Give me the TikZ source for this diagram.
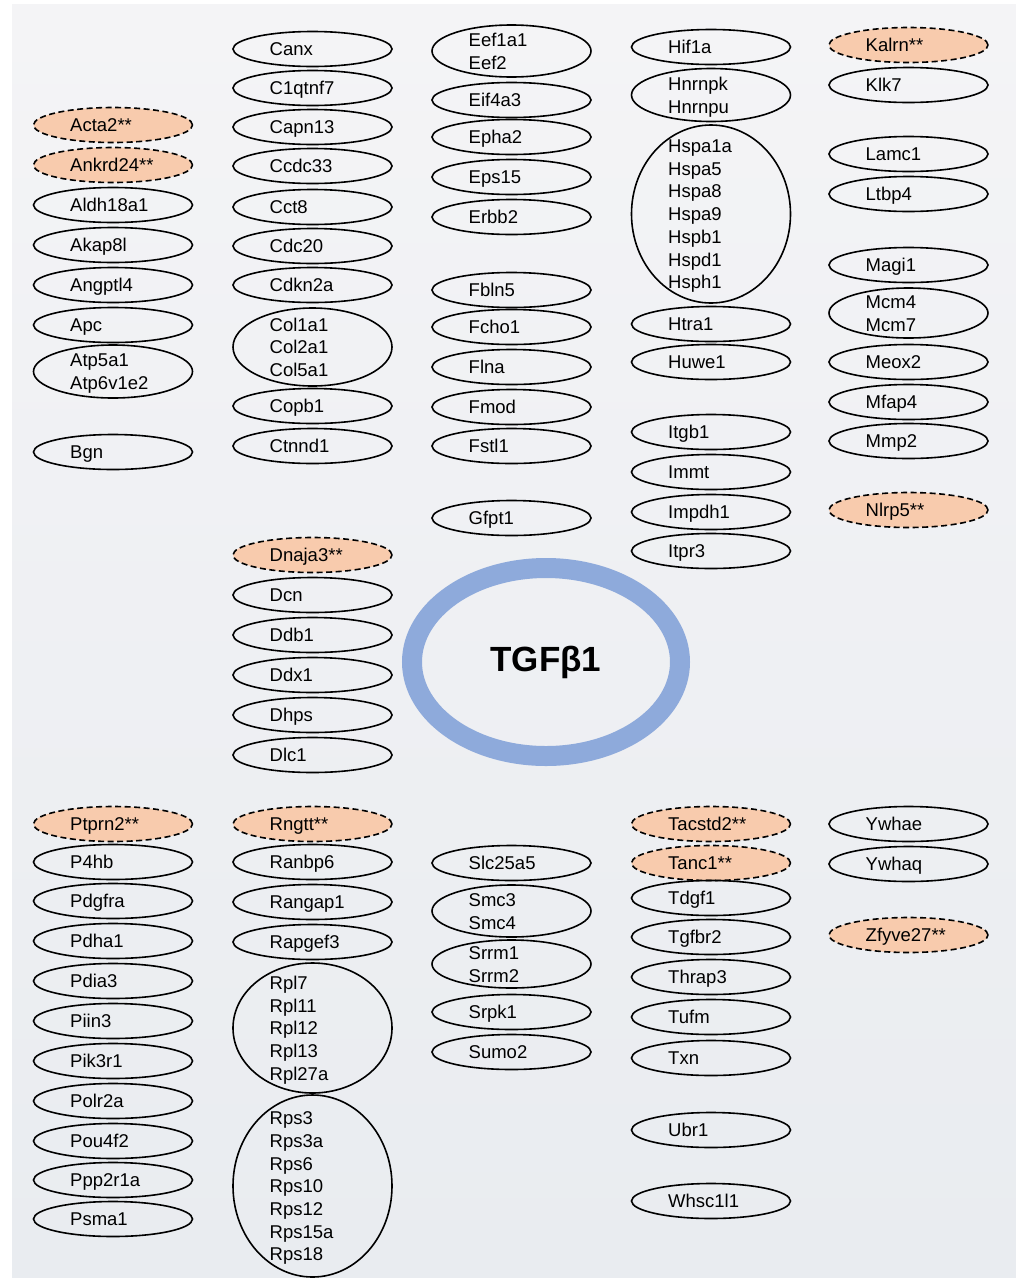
\documentclass[tikz,border=0pt]{standalone}
\usepackage{fontspec}
\setmainfont{Liberation Sans}
\usetikzlibrary{shapes.geometric}
\definecolor{peach}{HTML}{F8CBAD}
\definecolor{ringblue}{HTML}{8EAADB}
\definecolor{bgtop}{HTML}{F4F4F6}
\definecolor{bgbot}{HTML}{E9ECF0}
\tikzset{
  gbox/.style={ellipse,draw=black,line width=1.6pt,minimum width=159pt,minimum height=35pt,inner sep=0pt},
  hl/.style={fill=peach,dashed,dash pattern=on 6pt off 3.5pt},
  gtxt/.style={anchor=west,inner sep=0pt,align=left,font=\fontsize{18.5}{22.7}\selectfont}
}
\newcommand\gn[6][]{%
  \node[gbox,minimum height=#5,#1] (#2) at (#3,#4) {};
  \node[gtxt] (#2t) at ([xshift=-43pt,yshift=-2.2pt]#2.center) {\vphantom{Ag}#6\vphantom{gp}};
}
\begin{document}
\begin{tikzpicture}[x=1pt,y=-1pt]
\useasboundingbox (0,0) rectangle (1016,1278);
\fill[white] (0,0) rectangle (1016,1278);
\fill[top color=bgtop,bottom color=bgbot] (12,4) rectangle (1016,1277);
% column 1
\def\cx{113}
\gn[hl]{Acta2}{\cx}{125}{35pt}{Acta2**}
\gn[hl]{Ankrd24}{\cx}{165}{35pt}{Ankrd24**}
\gn{Aldh18a1}{\cx}{205}{35pt}{Aldh18a1}
\gn{Akap8l}{\cx}{245}{35pt}{Akap8l}
\gn{Angptl4}{\cx}{285}{35pt}{Angptl4}
\gn{Apc}{\cx}{325}{35pt}{Apc}
\gn{Atp}{\cx}{371.5}{53pt}{Atp5a1\\Atp6v1e2}
\gn{Bgn}{\cx}{452}{35pt}{Bgn}
\gn[hl]{Ptprn2}{\cx}{824}{35pt}{Ptprn2**}
\gn{P4hb}{\cx}{862}{35pt}{P4hb}
\gn{Pdgfra}{\cx}{901}{35pt}{Pdgfra}
\gn{Pdha1}{\cx}{941}{35pt}{Pdha1}
\gn{Pdia3}{\cx}{981}{35pt}{Pdia3}
\gn{Piin3}{\cx}{1021}{35pt}{Piin3}
\gn{Pik3r1}{\cx}{1061}{35pt}{Pik3r1}
\gn{Polr2a}{\cx}{1101}{35pt}{Polr2a}
\gn{Pou4f2}{\cx}{1141}{35pt}{Pou4f2}
\gn{Ppp2r1a}{\cx}{1180}{35pt}{Ppp2r1a}
\gn{Psma1}{\cx}{1219}{35pt}{Psma1}
% column 2
\def\cx{312.5}
\gn{Canx}{\cx}{49}{35pt}{Canx}
\gn{C1qtnf7}{\cx}{88}{35pt}{C1qtnf7}
\gn{Capn13}{\cx}{127}{35pt}{Capn13}
\gn{Ccdc33}{\cx}{166}{35pt}{Ccdc33}
\gn{Cct8}{\cx}{207}{35pt}{Cct8}
\gn{Cdc20}{\cx}{246}{35pt}{Cdc20}
\gn{Cdkn2a}{\cx}{285}{35pt}{Cdkn2a}
\gn{Col}{\cx}{347}{78pt}{Col1a1\\Col2a1\\Col5a1}
\gn{Copb1}{\cx}{406}{35pt}{Copb1}
\gn{Ctnnd1}{\cx}{446}{35pt}{Ctnnd1}
\gn[hl]{Dnaja3}{\cx}{555}{35pt}{Dnaja3**}
\gn{Dcn}{\cx}{595}{35pt}{Dcn}
\gn{Ddb1}{\cx}{635}{35pt}{Ddb1}
\gn{Ddx1}{\cx}{675}{35pt}{Ddx1}
\gn{Dhps}{\cx}{715}{35pt}{Dhps}
\gn{Dlc1}{\cx}{755}{35pt}{Dlc1}
\gn[hl]{Rngtt}{\cx}{824}{35pt}{Rngtt**}
\gn{Ranbp6}{\cx}{862}{35pt}{Ranbp6}
\gn{Rangap1}{\cx}{902}{35pt}{Rangap1}
\gn{Rapgef3}{\cx}{942}{35pt}{Rapgef3}
\gn{Rpl}{\cx}{1028}{130pt}{Rpl7\\Rpl11\\Rpl12\\Rpl13\\Rpl27a}
\gn{Rps}{\cx}{1186}{182pt}{Rps3\\Rps3a\\Rps6\\Rps10\\Rps12\\Rps15a\\Rps18}
% column 3
\def\cx{511.5}
\gn{Eef}{\cx}{51}{52pt}{Eef1a1\\Eef2}
\gn{Eif4a3}{\cx}{100}{35pt}{Eif4a3}
\gn{Epha2}{\cx}{137}{35pt}{Epha2}
\gn{Eps15}{\cx}{177}{35pt}{Eps15}
\gn{Erbb2}{\cx}{217}{35pt}{Erbb2}
\gn{Fbln5}{\cx}{290}{35pt}{Fbln5}
\gn{Fcho1}{\cx}{327}{35pt}{Fcho1}
\gn{Flna}{\cx}{367}{35pt}{Flna}
\gn{Fmod}{\cx}{407}{35pt}{Fmod}
\gn{Fstl1}{\cx}{446}{35pt}{Fstl1}
\gn{Gfpt1}{\cx}{518}{35pt}{Gfpt1}
\gn{Slc25a5}{\cx}{863}{35pt}{Slc25a5}
\gn{Smc}{\cx}{911}{52pt}{Smc3\\Smc4}
\gn{Srrm}{\cx}{964}{48pt}{Srrm1\\Srrm2}
\gn{Srpk1}{\cx}{1012}{35pt}{Srpk1}
\gn{Sumo2}{\cx}{1052}{35pt}{Sumo2}
% column 4
\def\cx{711}
\gn{Hif1a}{\cx}{47}{35pt}{Hif1a}
\gn{Hnrnp}{\cx}{95}{53pt}{Hnrnpk\\Hnrnpu}
\gn{Hsp}{\cx}{214}{178pt}{Hspa1a\\Hspa5\\Hspa8\\Hspa9\\Hspb1\\Hspd1\\Hsph1}
\gn{Htra1}{\cx}{324}{35pt}{Htra1}
\gn{Huwe1}{\cx}{362}{35pt}{Huwe1}
\gn{Itgb1}{\cx}{432}{35pt}{Itgb1}
\gn{Immt}{\cx}{472}{35pt}{Immt}
\gn{Impdh1}{\cx}{512}{35pt}{Impdh1}
\gn{Itpr3}{\cx}{551}{35pt}{Itpr3}
\gn[hl]{Tacstd2}{\cx}{824}{35pt}{Tacstd2**}
\gn[hl]{Tanc1}{\cx}{863}{35pt}{Tanc1**}
\gn{Tdgf1}{\cx}{898}{35pt}{Tdgf1}
\gn{Tgfbr2}{\cx}{937}{35pt}{Tgfbr2}
\gn{Thrap3}{\cx}{977}{35pt}{Thrap3}
\gn{Tufm}{\cx}{1017}{35pt}{Tufm}
\gn{Txn}{\cx}{1058}{35pt}{Txn}
\gn{Ubr1}{\cx}{1130}{35pt}{Ubr1}
\gn{Whsc1l1}{\cx}{1201}{35pt}{Whsc1l1}
% column 5
\def\cx{908.5}
\gn[hl]{Kalrn}{\cx}{45}{35pt}{Kalrn**}
\gn{Klk7}{\cx}{85}{35pt}{Klk7}
\gn{Lamc1}{\cx}{154}{35pt}{Lamc1}
\gn{Ltbp4}{\cx}{194}{35pt}{Ltbp4}
\gn{Magi1}{\cx}{265}{35pt}{Magi1}
\gn{Mcm}{\cx}{313}{50pt}{Mcm4\\Mcm7}
\gn{Meox2}{\cx}{362}{35pt}{Meox2}
\gn{Mfap4}{\cx}{402}{35pt}{Mfap4}
\gn{Mmp2}{\cx}{441}{35pt}{Mmp2}
\gn[hl]{Nlrp5}{\cx}{510}{35pt}{Nlrp5**}
\gn{Ywhae}{\cx}{824}{35pt}{Ywhae}
\gn{Ywhaq}{\cx}{864}{35pt}{Ywhaq}
\gn[hl]{Zfyve27}{\cx}{935}{35pt}{Zfyve27**}
% centre
\node[ellipse,draw=ringblue,line width=20pt,minimum width=268pt,minimum height=188pt,inner sep=0pt] (tgf) at (546,662) {};
\node[inner sep=0pt,font=\fontsize{35}{40}\selectfont\bfseries] (tgft) at (tgf.center) {TGFβ1};
\end{tikzpicture}
\end{document}
